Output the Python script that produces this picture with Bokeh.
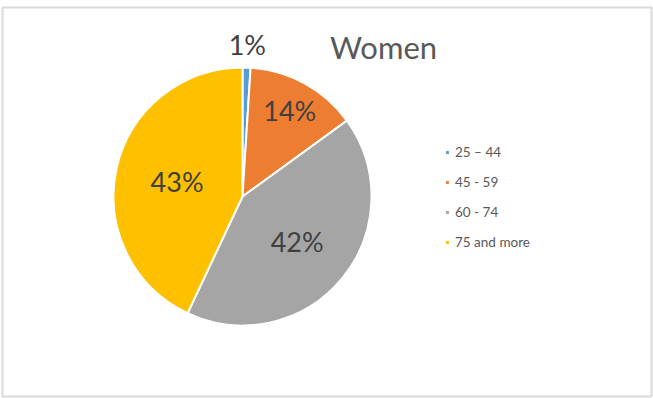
import numpy as np
from bokeh.plotting import figure
from bokeh.models import ColumnDataSource, Legend, LegendItem, Range1d
from bokeh.core.properties import value
from bokeh.embed import file_html
from bokeh.resources import INLINE

categories = ["25 \u2013 44", "45 - 59", "60 - 74", "75 and more"]
shares = [1, 14, 42, 43]
colors = ["#5B9BD5", "#ED7D31", "#A5A5A5", "#FFC000"]
label_radius = [1.18, 0.76, 0.55, 0.52]

W, H = 653, 398
cx, cy, r = 242, H - 196, 129

p = figure(width=W, height=H, output_backend="svg", toolbar_location=None,
           x_range=Range1d(2, W - 2), y_range=Range1d(2, H - 7),
           min_border_left=2, min_border_right=2, min_border_top=7, min_border_bottom=2)
p.axis.visible = False
p.grid.visible = False
p.outline_line_color = "#d9d9d9"
p.outline_line_width = 2

frac = np.array(shares) / sum(shares)
cum = np.concatenate([[0], np.cumsum(frac)])
start = np.pi / 2 - cum[1:] * 2 * np.pi
end = np.pi / 2 - cum[:-1] * 2 * np.pi
mid = (start + end) / 2

src = ColumnDataSource(dict(cat=categories, start=start, end=end, color=colors,
                            x=[cx] * 4, y=[cy] * 4))
w = p.wedge(x="x", y="y", radius=r, start_angle="start", end_angle="end",
            fill_color="color", line_color="white", line_width=2, source=src)

lx = cx + np.array(label_radius) * r * np.cos(mid)
ly = cy + np.array(label_radius) * r * np.sin(mid)
labels = [f"{s}%" for s in shares]
p.text(x=lx, y=ly, text=labels, text_align="center", text_baseline="middle",
       text_font=value("Lato"), text_font_size="27px", text_color="#404040")

p.text(x=[383], y=[H - 46], text=["Women"], text_align="center", text_baseline="middle",
       text_font=value("Lato"), text_font_size="31px", text_color="#595959")

items = [LegendItem(label=c, renderers=[w], index=i) for i, c in enumerate(categories)]
legend = Legend(items=items, location=(442, 146), orientation="vertical",
                label_text_font="Lato", label_text_font_size="13.5px",
                label_text_color="#595959", glyph_width=6, glyph_height=6,
                label_height=14, spacing=14, padding=0, margin=0,
                border_line_color=None, background_fill_alpha=0,
                label_standoff=5)
p.add_layout(legend, "center")

open("out.html", "w").write(file_html(p, INLINE))
